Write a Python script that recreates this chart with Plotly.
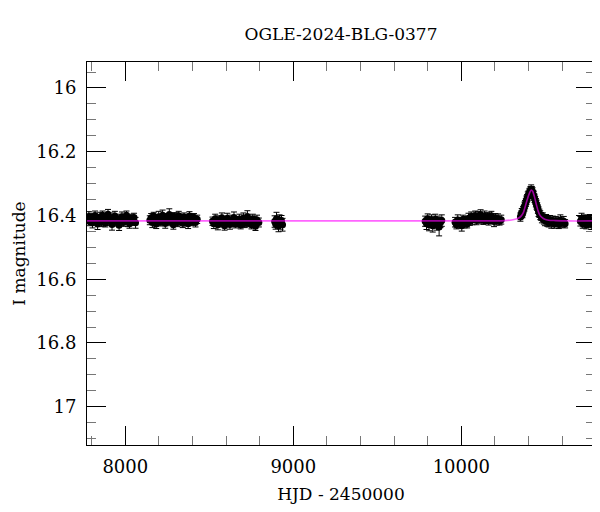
import plotly.graph_objects as go

# ---- photometry, season by season (HJD - 2450000, I mag, error) ----
x1 = [7776, 7783, 7790, 7798, 7805, 7812, 7820, 7827, 7835, 7842, 7850, 7858, 7865, 7873, 7881, 7889, 7897, 7905,
      7913, 7921, 7929, 7938, 7946, 7955, 7963, 7972, 7980, 7989, 7998, 8007, 8016, 8025, 8034, 8043, 8052, 8061]
m1 = [16.412, 16.403, 16.420, 16.407, 16.423, 16.414, 16.400, 16.417, 16.427, 16.410, 16.405, 16.421, 16.399, 16.413,
      16.424, 16.409, 16.396, 16.418, 16.406, 16.428, 16.413, 16.402, 16.421, 16.410, 16.431, 16.415, 16.404, 16.422,
      16.411, 16.399, 16.419, 16.426, 16.408, 16.416, 16.406, 16.423]
e1 = [0.013, 0.015, 0.012, 0.014, 0.016, 0.013, 0.014, 0.012, 0.017, 0.013, 0.015, 0.014, 0.013, 0.016, 0.012, 0.014,
      0.015, 0.013, 0.014, 0.018, 0.013, 0.015, 0.012, 0.014, 0.016, 0.013, 0.015, 0.012, 0.014, 0.013, 0.016, 0.014,
      0.012, 0.015, 0.013, 0.017]

x2 = [8146, 8154, 8161, 8169, 8176, 8184, 8191, 8199, 8207, 8214, 8222, 8230, 8238, 8246, 8254, 8262, 8270, 8278,
      8286, 8294, 8302, 8310, 8318, 8326, 8334, 8342, 8350, 8358, 8366, 8374, 8382, 8391, 8400, 8409, 8418, 8428]
m2 = [16.415, 16.407, 16.422, 16.402, 16.418, 16.427, 16.410, 16.404, 16.421, 16.413, 16.399, 16.417, 16.425, 16.406,
      16.414, 16.397, 16.419, 16.409, 16.429, 16.403, 16.412, 16.422, 16.401, 16.415, 16.408, 16.424, 16.405, 16.417,
      16.410, 16.426, 16.402, 16.419, 16.413, 16.406, 16.422, 16.412]
e2 = [0.014, 0.013, 0.016, 0.012, 0.015, 0.014, 0.013, 0.017, 0.012, 0.014, 0.016, 0.013, 0.015, 0.012, 0.014, 0.018,
      0.013, 0.015, 0.014, 0.012, 0.016, 0.013, 0.014, 0.015, 0.012, 0.014, 0.013, 0.016, 0.012, 0.015, 0.014, 0.013,
      0.017, 0.012, 0.014, 0.013]

x3 = [8519, 8527, 8535, 8543, 8551, 8559, 8567, 8575, 8583, 8591, 8599, 8607, 8615, 8623, 8631, 8639, 8647, 8655,
      8663, 8671, 8679, 8687, 8695, 8703, 8711, 8719, 8727, 8735, 8743, 8751, 8759, 8767, 8775, 8784, 8795]
m3 = [16.418, 16.426, 16.410, 16.422, 16.429, 16.414, 16.419, 16.407, 16.424, 16.432, 16.416, 16.409, 16.423, 16.428,
      16.413, 16.420, 16.406, 16.427, 16.417, 16.422, 16.411, 16.430, 16.419, 16.408, 16.425, 16.416, 16.403, 16.423,
      16.418, 16.429, 16.410, 16.420, 16.434, 16.414, 16.422]
e3 = [0.013, 0.015, 0.014, 0.012, 0.016, 0.013, 0.014, 0.015, 0.012, 0.014, 0.013, 0.016, 0.012, 0.015, 0.014, 0.013,
      0.017, 0.012, 0.014, 0.013, 0.015, 0.012, 0.014, 0.016, 0.013, 0.014, 0.018, 0.012, 0.015, 0.013, 0.014, 0.016,
      0.013, 0.015, 0.014]

x4 = [8889, 8895, 8900, 8906, 8912, 8918, 8924, 8930, 8936]
m4 = [16.419, 16.427, 16.410, 16.422, 16.432, 16.414, 16.425, 16.417, 16.429]
e4 = [0.018, 0.016, 0.020, 0.017, 0.019, 0.016, 0.018, 0.017, 0.020]

x5 = [9785, 9793, 9800, 9808, 9815, 9823, 9830, 9838, 9845, 9853, 9860, 9868, 9876, 9884]
m5 = [16.418, 16.426, 16.410, 16.429, 16.421, 16.414, 16.432, 16.423, 16.412, 16.428, 16.419, 16.436, 16.422, 16.416]
e5 = [0.016, 0.018, 0.015, 0.019, 0.017, 0.016, 0.020, 0.017, 0.016, 0.018, 0.017, 0.028, 0.016, 0.018]

x6 = [9963, 9971, 9979, 9987, 9995, 10003, 10011, 10019, 10027, 10035, 10043, 10051, 10059, 10067, 10075, 10083,
      10091, 10099, 10107, 10115, 10123, 10131, 10139, 10147, 10155, 10163, 10171, 10179, 10187, 10195, 10203, 10211,
      10219, 10228, 10238]
m6 = [16.421, 16.429, 16.414, 16.426, 16.418, 16.432, 16.412, 16.424, 16.417, 16.427, 16.409, 16.418, 16.403, 16.414,
      16.406, 16.400, 16.416, 16.404, 16.412, 16.397, 16.409, 16.415, 16.402, 16.413, 16.405, 16.417, 16.409, 16.401,
      16.414, 16.419, 16.407, 16.416, 16.410, 16.418, 16.413]
e6 = [0.015, 0.013, 0.016, 0.014, 0.012, 0.017, 0.013, 0.015, 0.014, 0.012, 0.016, 0.013, 0.014, 0.015, 0.012, 0.014,
      0.013, 0.016, 0.012, 0.015, 0.014, 0.013, 0.016, 0.012, 0.014, 0.013, 0.015, 0.014, 0.012, 0.016, 0.013, 0.014,
      0.015, 0.012, 0.014]

x7 = [10352, 10356, 10360, 10364, 10368, 10372, 10376, 10380, 10384, 10388, 10392, 10396, 10400, 10404, 10408, 10412,
      10416, 10420, 10424, 10428, 10432, 10436, 10440, 10444, 10448, 10452, 10456, 10460, 10465, 10470, 10475, 10480,
      10486, 10492, 10498, 10505, 10512, 10520, 10528, 10536, 10545, 10554, 10563, 10572, 10581, 10590, 10600, 10610,
      10618]
m7 = [16.405, 16.398, 16.392, 16.395, 16.385, 16.380, 16.372, 16.366, 16.360, 16.352, 16.346, 16.340, 16.335, 16.330,
      16.326, 16.322, 16.318, 16.321, 16.326, 16.333, 16.338, 16.346, 16.352, 16.360, 16.366, 16.372, 16.380, 16.388,
      16.393, 16.399, 16.403, 16.408, 16.405, 16.413, 16.416, 16.410, 16.419, 16.422, 16.413, 16.424, 16.416, 16.427,
      16.418, 16.421, 16.428, 16.414, 16.423, 16.418, 16.426]
e7 = [0.013, 0.012, 0.014, 0.012, 0.013, 0.012, 0.014, 0.013, 0.012, 0.013, 0.012, 0.014, 0.012, 0.013, 0.012, 0.013,
      0.014, 0.012, 0.013, 0.012, 0.014, 0.013, 0.012, 0.013, 0.014, 0.012, 0.013, 0.015, 0.013, 0.014, 0.012, 0.015,
      0.013, 0.014, 0.016, 0.013, 0.015, 0.014, 0.013, 0.016, 0.014, 0.013, 0.015, 0.014, 0.013, 0.016, 0.014, 0.015,
      0.013]

x8 = [10709, 10716, 10723, 10730, 10737, 10744, 10751, 10758, 10766, 10774, 10782]
m8 = [16.418, 16.410, 16.426, 16.420, 16.413, 16.429, 16.419, 16.424, 16.412, 16.427, 16.421]
e8 = [0.015, 0.017, 0.014, 0.016, 0.015, 0.013, 0.016, 0.014, 0.015, 0.017, 0.014]

# ---- microlensing model curve ----
model_x = [7772, 10200, 10260, 10300, 10326, 10345, 10356, 10370, 10387, 10400, 10410, 10417, 10425, 10435,
           10447, 10457, 10467, 10480, 10497, 10520, 10560, 10620, 10796]
model_y = [16.417, 16.417, 16.416, 16.414, 16.411, 16.407, 16.402, 16.390, 16.360, 16.338, 16.325, 16.320, 16.324,
           16.340, 16.366, 16.385, 16.398, 16.406, 16.412, 16.415, 16.416, 16.417, 16.417]

title_text = "OGLE-2024-BLG-0377"
x_title = "HJD - 2450000"
y_title = "I magnitude"

hjd = x1 + x2 + x3 + x4 + x5 + x6 + x7 + x8
mag = m1 + m2 + m3 + m4 + m5 + m6 + m7 + m8
err = e1 + e2 + e3 + e4 + e5 + e6 + e7 + e8

FONT = "DejaVu Serif"
# the page body adds an 8 px margin, so the figure is 8 px smaller on each axis
W, H = 592, 504

fig = go.Figure()
fig.add_trace(go.Scatter(
    x=hjd, y=mag, mode="markers",
    marker=dict(color="black", size=7),
    error_y=dict(type="data", array=err, color="black", thickness=1, width=3),
    hoverinfo="skip",
))
fig.add_trace(go.Scatter(
    x=model_x, y=model_y, mode="lines",
    line=dict(color="#ff00ff", width=1.6, shape="spline", smoothing=0.6),
    opacity=0.6, hoverinfo="skip",
))

axis_common = dict(
    ticks="inside", ticklen=19, tickwidth=1, tickcolor="black",
    showline=True, linecolor="black", linewidth=1, mirror="allticks",
    showgrid=False, zeroline=False, automargin=False,
    tickfont=dict(family=FONT, size=18, color="black"),
)

fig.update_layout(
    width=W, height=H,
    margin=dict(l=79, r=5, t=54, b=67),
    paper_bgcolor="white", plot_bgcolor="white",
    showlegend=False,
    font=dict(family=FONT, color="black"),
    title=dict(text=title_text, x=0.5, xref="paper", y=1 - 26 / H, yref="container",
               yanchor="middle", xanchor="center", font=dict(family=FONT, size=17, color="black")),
    xaxis=dict(
        range=[7772, 10796], tickmode="linear", tick0=0, dtick=1000, tickformat="d",
        minor=dict(dtick=200, tick0=0, ticklen=9, tickcolor="#777777", ticks="inside", showgrid=False),
        title=dict(text=x_title, font=dict(family=FONT, size=17, color="black"), standoff=12),
        ticklabelstandoff=5,
        **axis_common,
    ),
    yaxis=dict(
        range=[17.12, 15.9185], tickmode="linear", tick0=16, dtick=0.2,
        minor=dict(dtick=0.05, tick0=16, ticklen=9, tickcolor="#777777", ticks="inside", showgrid=False),
        title=dict(text=y_title, font=dict(family=FONT, size=17, color="black"), standoff=6),
        ticklabelstandoff=6,
        **axis_common,
    ),
)

fig.write_html("out.html")
